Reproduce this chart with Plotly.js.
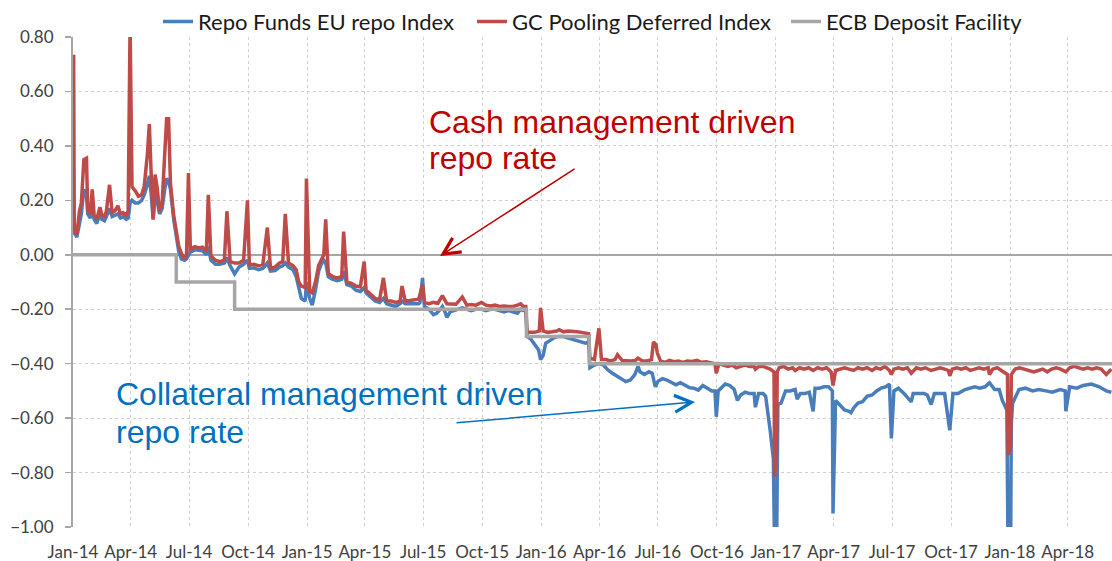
<!DOCTYPE html>
<html>
<head>
<meta charset="utf-8">
<script src="https://cdn.plot.ly/plotly-3.0.1.min.js"></script>
<style>
  html, body { margin: 0; padding: 0; background: #ffffff; }
  #chart { width: 1112px; height: 561px; }
</style>
</head>
<body>
<div id="chart"></div>
<script>
// ---------- DATA ----------
const tickDates = ['2014-01-01','2014-04-01','2014-07-01','2014-10-01','2015-01-01','2015-04-01','2015-07-01','2015-10-01','2016-01-01','2016-04-01','2016-07-01','2016-10-01','2017-01-01','2017-04-01','2017-07-01','2017-10-01','2018-01-01','2018-04-01'];
const tickLabels = ['Jan-14','Apr-14','Jul-14','Oct-14','Jan-15','Apr-15','Jul-15','Oct-15','Jan-16','Apr-16','Jul-16','Oct-16','Jan-17','Apr-17','Jul-17','Oct-17','Jan-18','Apr-18'];
const yTicks = [0.8, 0.6, 0.4, 0.2, 0, -0.2, -0.4, -0.6, -0.8, -1.0];

// ECB Deposit Facility (step changes)
const ecbDates  = ['2014-01-01','2014-06-11','2014-09-10','2015-12-09','2016-03-16','2018-06-09'];
const ecbValues = [0.00, -0.10, -0.20, -0.30, -0.40, -0.40];

// GC Pooling Deferred Index
const gcDates = [
'2014-01-02','2014-01-03','2014-01-07','2014-01-11','2014-01-14','2014-01-18','2014-01-22','2014-01-24','2014-01-28','2014-01-31',
'2014-02-03','2014-02-07','2014-02-12','2014-02-15','2014-02-19','2014-02-22','2014-02-27','2014-03-03','2014-03-07','2014-03-12',
'2014-03-16','2014-03-20','2014-03-25','2014-03-28','2014-03-31','2014-04-03','2014-04-08','2014-04-13','2014-04-18','2014-04-22',
'2014-04-27','2014-04-30','2014-05-03','2014-05-06','2014-05-09','2014-05-12','2014-05-16','2014-05-20','2014-05-24','2014-05-27',
'2014-05-30','2014-06-02','2014-06-07','2014-06-11','2014-06-15','2014-06-19','2014-06-24','2014-06-27','2014-06-30','2014-07-03',
'2014-07-10','2014-07-16','2014-07-22','2014-07-28','2014-07-31','2014-08-04','2014-08-11','2014-08-18','2014-08-25','2014-08-29',
'2014-09-03','2014-09-10','2014-09-17','2014-09-24','2014-09-30','2014-10-03','2014-10-10','2014-10-17','2014-10-24','2014-10-31',
'2014-11-05','2014-11-12','2014-11-19','2014-11-24','2014-11-28','2014-12-03','2014-12-10','2014-12-15','2014-12-19','2014-12-23',
'2014-12-29','2014-12-31','2015-01-05','2015-01-09','2015-01-14','2015-01-19','2015-01-23','2015-01-27','2015-01-30','2015-02-03',
'2015-02-10','2015-02-17','2015-02-24','2015-02-27','2015-03-04','2015-03-11','2015-03-18','2015-03-25','2015-03-31','2015-04-03',
'2015-04-10','2015-04-17','2015-04-24','2015-04-30','2015-05-05','2015-05-12','2015-05-19','2015-05-26','2015-05-29','2015-06-03',
'2015-06-10','2015-06-17','2015-06-24','2015-06-30','2015-07-03','2015-07-10','2015-07-17','2015-07-24','2015-07-31','2015-08-07',
'2015-08-14','2015-08-21','2015-08-31','2015-09-07','2015-09-14','2015-09-21','2015-09-30','2015-10-07','2015-10-14','2015-10-21',
'2015-10-28','2015-11-04','2015-11-11','2015-11-18','2015-11-25','2015-11-30','2015-12-04','2015-12-08','2015-12-10','2015-12-16',
'2015-12-22','2015-12-29','2015-12-31','2016-01-04','2016-01-11','2016-01-18','2016-01-25','2016-01-29','2016-02-05','2016-02-12',
'2016-02-19','2016-02-26','2016-03-04','2016-03-11','2016-03-15','2016-03-17','2016-03-24','2016-03-31','2016-04-04','2016-04-11',
'2016-04-18','2016-04-25','2016-04-29','2016-05-06','2016-05-13','2016-05-20','2016-05-27','2016-05-31','2016-06-07','2016-06-14',
'2016-06-21','2016-06-24','2016-06-28','2016-06-30','2016-07-05','2016-07-12','2016-07-19','2016-07-26','2016-08-02','2016-08-09',
'2016-08-16','2016-08-23','2016-08-31','2016-09-07','2016-09-14','2016-09-21','2016-09-28','2016-09-30','2016-10-04','2016-10-11',
'2016-10-18','2016-10-25','2016-10-31','2016-11-07','2016-11-14','2016-11-21','2016-11-28','2016-11-30','2016-12-05','2016-12-12',
'2016-12-19','2016-12-23','2016-12-29','2016-12-30','2017-01-02','2017-01-03','2017-01-06','2017-01-13','2017-01-20','2017-01-27',
'2017-01-31','2017-02-07','2017-02-14','2017-02-21','2017-02-28','2017-03-07','2017-03-14','2017-03-21','2017-03-28','2017-03-31',
'2017-04-04','2017-04-11','2017-04-18','2017-04-25','2017-05-02','2017-05-09','2017-05-16','2017-05-23','2017-05-31','2017-06-06',
'2017-06-13','2017-06-20','2017-06-27','2017-06-30','2017-07-04','2017-07-11','2017-07-18','2017-07-25','2017-07-31','2017-08-08',
'2017-08-15','2017-08-22','2017-08-31','2017-09-07','2017-09-14','2017-09-21','2017-09-27','2017-09-29','2017-10-03','2017-10-10',
'2017-10-17','2017-10-24','2017-10-31','2017-11-07','2017-11-14','2017-11-21','2017-11-28','2017-11-30','2017-12-05','2017-12-12',
'2017-12-19','2017-12-28','2017-12-29','2018-01-02','2018-01-03','2018-01-09','2018-01-16','2018-01-23','2018-01-31','2018-02-07',
'2018-02-14','2018-02-21','2018-02-28','2018-03-07','2018-03-14','2018-03-21','2018-03-29','2018-04-04','2018-04-11','2018-04-18',
'2018-04-25','2018-05-02','2018-05-09','2018-05-16','2018-05-23','2018-05-31','2018-06-05','2018-06-08'];
const gcValues = [
0.735,0.09,0.075,0.16,0.19,0.35,0.355,0.165,0.15,0.24,
0.145,0.13,0.175,0.145,0.14,0.16,0.257,0.155,0.16,0.18,
0.15,0.155,0.145,0.16,0.85,0.25,0.235,0.215,0.22,0.25,
0.37,0.48,0.29,0.13,0.295,0.25,0.16,0.19,0.37,0.50,
0.50,0.26,0.145,0.09,0.03,0.005,-0.015,0.0,0.30,0.02,
0.03,0.025,0.028,0.012,0.22,-0.005,-0.02,-0.025,-0.02,0.16,
-0.025,-0.03,-0.03,-0.02,0.20,-0.037,-0.035,-0.04,-0.035,0.10,
-0.05,-0.045,-0.03,-0.025,0.15,-0.03,-0.04,-0.055,-0.10,-0.115,
-0.12,0.28,-0.135,-0.14,-0.10,-0.04,-0.02,0.0,0.13,-0.068,
-0.08,-0.085,-0.08,0.085,-0.10,-0.105,-0.115,-0.118,-0.025,-0.13,
-0.145,-0.16,-0.165,-0.085,-0.17,-0.17,-0.175,-0.17,-0.115,-0.17,
-0.168,-0.165,-0.163,-0.11,-0.175,-0.18,-0.175,-0.178,-0.15,-0.18,
-0.18,-0.182,-0.155,-0.185,-0.183,-0.185,-0.175,-0.185,-0.188,-0.185,
-0.19,-0.188,-0.19,-0.19,-0.185,-0.18,-0.19,-0.19,-0.285,-0.285,
-0.285,-0.28,-0.195,-0.28,-0.285,-0.283,-0.28,-0.275,-0.283,-0.28,
-0.28,-0.283,-0.285,-0.288,-0.29,-0.38,-0.385,-0.27,-0.385,-0.385,
-0.39,-0.385,-0.367,-0.388,-0.39,-0.39,-0.388,-0.38,-0.39,-0.39,
-0.385,-0.32,-0.33,-0.36,-0.39,-0.395,-0.388,-0.393,-0.39,-0.395,
-0.39,-0.392,-0.388,-0.395,-0.393,-0.395,-0.40,-0.435,-0.40,-0.405,
-0.41,-0.405,-0.415,-0.41,-0.405,-0.41,-0.41,-0.42,-0.41,-0.41,
-0.415,-0.42,-0.43,-0.815,-0.70,-0.43,-0.415,-0.41,-0.42,-0.415,
-0.425,-0.415,-0.42,-0.415,-0.425,-0.415,-0.42,-0.415,-0.43,-0.48,
-0.425,-0.42,-0.415,-0.42,-0.425,-0.415,-0.42,-0.415,-0.425,-0.415,
-0.42,-0.41,-0.425,-0.44,-0.42,-0.415,-0.42,-0.415,-0.435,-0.415,
-0.42,-0.415,-0.425,-0.42,-0.415,-0.42,-0.425,-0.445,-0.42,-0.415,
-0.42,-0.415,-0.425,-0.42,-0.415,-0.42,-0.415,-0.44,-0.42,-0.415,
-0.425,-0.44,-0.735,-0.70,-0.44,-0.42,-0.415,-0.42,-0.425,-0.43,
-0.425,-0.42,-0.43,-0.42,-0.415,-0.42,-0.43,-0.415,-0.41,-0.415,
-0.42,-0.415,-0.42,-0.415,-0.42,-0.44,-0.425,-0.42];

// Repo Funds EU repo Index
const repoDates = [
'2014-01-02','2014-01-03','2014-01-07','2014-01-11','2014-01-14','2014-01-18','2014-01-22','2014-01-24','2014-01-28','2014-01-31',
'2014-02-03','2014-02-07','2014-02-12','2014-02-15','2014-02-19','2014-02-22','2014-02-27','2014-03-03','2014-03-07','2014-03-12',
'2014-03-16','2014-03-20','2014-03-25','2014-03-28','2014-03-31','2014-04-03','2014-04-08','2014-04-13','2014-04-18','2014-04-22',
'2014-04-27','2014-04-30','2014-05-03','2014-05-06','2014-05-09','2014-05-12','2014-05-16','2014-05-20','2014-05-24','2014-05-27',
'2014-05-30','2014-06-02','2014-06-07','2014-06-11','2014-06-15','2014-06-19','2014-06-24','2014-06-27','2014-06-30','2014-07-03',
'2014-07-10','2014-07-16','2014-07-22','2014-07-28','2014-07-31','2014-08-04','2014-08-11','2014-08-18','2014-08-25','2014-08-29',
'2014-09-03','2014-09-10','2014-09-17','2014-09-24','2014-09-30','2014-10-03','2014-10-10','2014-10-17','2014-10-24','2014-10-31',
'2014-11-05','2014-11-12','2014-11-19','2014-11-24','2014-11-28','2014-12-03','2014-12-10','2014-12-15','2014-12-19','2014-12-23',
'2014-12-29','2014-12-31','2015-01-05','2015-01-09','2015-01-14','2015-01-19','2015-01-23','2015-01-27','2015-01-30','2015-02-03',
'2015-02-10','2015-02-17','2015-02-24','2015-02-27','2015-03-04','2015-03-11','2015-03-18','2015-03-25','2015-03-31','2015-04-03',
'2015-04-10','2015-04-17','2015-04-24','2015-04-30','2015-05-05','2015-05-12','2015-05-19','2015-05-26','2015-05-29','2015-06-03',
'2015-06-10','2015-06-17','2015-06-24','2015-06-26','2015-06-30','2015-07-03','2015-07-10','2015-07-17','2015-07-22','2015-07-28',
'2015-07-31','2015-08-04','2015-08-07','2015-08-12','2015-08-19','2015-08-26','2015-08-31','2015-09-07','2015-09-14','2015-09-21',
'2015-09-30','2015-10-07','2015-10-14','2015-10-21','2015-10-28','2015-11-04','2015-11-11','2015-11-18','2015-11-25','2015-11-30',
'2015-12-04','2015-12-08','2015-12-10','2015-12-16','2015-12-22','2015-12-28','2015-12-31','2016-01-04','2016-01-08','2016-01-14',
'2016-01-21','2016-01-28','2016-02-04','2016-02-11','2016-02-18','2016-02-25','2016-03-03','2016-03-10','2016-03-15','2016-03-17',
'2016-03-24','2016-03-31','2016-04-07','2016-04-14','2016-04-21','2016-04-28','2016-05-05','2016-05-12','2016-05-19','2016-05-26',
'2016-05-31','2016-06-03','2016-06-10','2016-06-17','2016-06-22','2016-06-27','2016-07-01','2016-07-08','2016-07-15','2016-07-22',
'2016-07-29','2016-08-05','2016-08-12','2016-08-19','2016-08-26','2016-09-02','2016-09-09','2016-09-16','2016-09-23','2016-09-28',
'2016-09-30','2016-10-03','2016-10-07','2016-10-14','2016-10-21','2016-10-28','2016-11-02','2016-11-07','2016-11-14','2016-11-21',
'2016-11-28','2016-11-30','2016-12-05','2016-12-12','2016-12-16','2016-12-20','2016-12-23','2016-12-28','2016-12-30','2017-01-02',
'2017-01-03','2017-01-04','2017-01-09','2017-01-16','2017-01-23','2017-01-31','2017-02-03','2017-02-08','2017-02-15','2017-02-22',
'2017-02-28','2017-03-03','2017-03-10','2017-03-17','2017-03-24','2017-03-30','2017-03-31','2017-04-04','2017-04-10','2017-04-18',
'2017-04-25','2017-04-28','2017-05-03','2017-05-09','2017-05-16','2017-05-23','2017-05-31','2017-06-07','2017-06-14','2017-06-21',
'2017-06-27','2017-06-30','2017-07-04','2017-07-11','2017-07-20','2017-07-31','2017-08-03','2017-08-09','2017-08-20','2017-08-25',
'2017-08-31','2017-09-05','2017-09-14','2017-09-21','2017-09-29','2017-10-04','2017-10-12','2017-10-23','2017-11-07','2017-11-15',
'2017-11-23','2017-11-30','2017-12-08','2017-12-15','2017-12-20','2017-12-27','2017-12-29','2018-01-02','2018-01-03','2018-01-05',
'2018-01-15','2018-01-25','2018-02-05','2018-02-15','2018-02-26','2018-03-08','2018-03-20','2018-03-28','2018-03-29','2018-04-04',
'2018-04-15','2018-04-25','2018-05-08','2018-05-20','2018-05-31','2018-06-08'];
const repoValues = [
0.10,0.08,0.065,0.12,0.15,0.24,0.22,0.15,0.135,0.16,
0.13,0.115,0.15,0.13,0.125,0.14,0.17,0.14,0.145,0.15,
0.135,0.14,0.13,0.135,0.19,0.20,0.19,0.19,0.20,0.22,
0.26,0.29,0.22,0.13,0.22,0.20,0.15,0.17,0.24,0.28,
0.27,0.24,0.13,0.07,0.01,-0.015,-0.02,-0.015,0.0,0.01,
0.018,0.015,0.015,0.0,0.03,-0.02,-0.035,-0.035,-0.03,-0.01,
-0.04,-0.07,-0.045,-0.035,-0.02,-0.05,-0.048,-0.055,-0.05,-0.03,
-0.06,-0.058,-0.045,-0.04,-0.03,-0.045,-0.055,-0.08,-0.12,-0.16,
-0.17,-0.10,-0.16,-0.185,-0.13,-0.06,-0.035,-0.02,-0.03,-0.08,
-0.09,-0.095,-0.09,-0.06,-0.11,-0.115,-0.13,-0.135,-0.12,-0.14,
-0.155,-0.17,-0.175,-0.16,-0.18,-0.185,-0.19,-0.18,-0.17,-0.18,
-0.18,-0.178,-0.18,-0.175,-0.085,-0.19,-0.20,-0.22,-0.215,-0.20,
-0.19,-0.21,-0.23,-0.21,-0.205,-0.20,-0.195,-0.20,-0.205,-0.20,
-0.20,-0.205,-0.20,-0.20,-0.205,-0.21,-0.205,-0.21,-0.215,-0.20,
-0.205,-0.205,-0.30,-0.31,-0.33,-0.35,-0.385,-0.37,-0.325,-0.315,
-0.305,-0.30,-0.30,-0.305,-0.31,-0.315,-0.32,-0.325,-0.32,-0.415,
-0.405,-0.40,-0.405,-0.423,-0.435,-0.445,-0.455,-0.466,-0.46,-0.44,
-0.41,-0.43,-0.44,-0.43,-0.435,-0.485,-0.465,-0.455,-0.46,-0.468,
-0.478,-0.47,-0.478,-0.488,-0.49,-0.497,-0.48,-0.49,-0.50,-0.50,
-0.595,-0.50,-0.49,-0.475,-0.48,-0.495,-0.535,-0.515,-0.505,-0.51,
-0.51,-0.56,-0.51,-0.51,-0.52,-0.58,-0.645,-0.75,-1.10,-1.10,
-0.62,-0.55,-0.545,-0.50,-0.50,-0.495,-0.53,-0.51,-0.51,-0.505,
-0.575,-0.49,-0.49,-0.485,-0.485,-0.50,-0.95,-0.535,-0.55,-0.57,
-0.575,-0.58,-0.56,-0.545,-0.54,-0.52,-0.515,-0.50,-0.49,-0.485,
-0.475,-0.675,-0.50,-0.49,-0.51,-0.54,-0.51,-0.51,-0.51,-0.515,
-0.55,-0.51,-0.51,-0.51,-0.645,-0.51,-0.51,-0.495,-0.485,-0.49,
-0.485,-0.47,-0.495,-0.495,-0.535,-0.57,-1.10,-1.05,-0.62,-0.545,
-0.495,-0.49,-0.50,-0.495,-0.50,-0.505,-0.495,-0.50,-0.575,-0.485,
-0.49,-0.48,-0.475,-0.485,-0.50,-0.505];

// ---------- CHART ----------
const W = 1112, H = 561;
const M = {l: 73, r: 0, t: 37, b: 34};
const plotW = W - M.l - M.r, plotH = H - M.t - M.b;
const px = x => (x - M.l) / plotW;   // pixel -> paper x
const py = y => (H - M.b - y) / plotH; // pixel -> paper y

const traces = [
  { type: 'scatter', mode: 'lines', name: 'Repo Funds EU repo Index',
    x: repoDates, y: repoValues, line: {color: '#4A7EBB', width: 3.5} },
  { type: 'scatter', mode: 'lines', name: 'GC Pooling Deferred Index',
    x: gcDates, y: gcValues, line: {color: '#BE4B48', width: 3.5} },
  { type: 'scatter', mode: 'lines', name: 'ECB Deposit Facility',
    x: ecbDates, y: ecbValues, line: {color: '#A6A6A6', width: 3.5, shape: 'hv'} }
];

const annFont = (c) => ({family: '"Liberation Sans", Arial, sans-serif', size: 32, color: c});
const layout = {
  width: W, height: H,
  margin: M,
  paper_bgcolor: '#ffffff', plot_bgcolor: '#ffffff',
  showlegend: true,
  legend: {
    orientation: 'h', x: px(158), xanchor: 'left', y: 1.031, yanchor: 'middle',
    font: {family: 'Lato, "Open Sans", sans-serif', size: 22, color: '#1a1a1a'},
    bgcolor: 'rgba(0,0,0,0)', itemwidth: 30, traceorder: 'normal',
    entrywidth: 269, entrywidthmode: 'pixels'
  },
  xaxis: {
    type: 'date', range: ['2014-01-01', '2018-06-09'],
    tickmode: 'array', tickvals: tickDates, ticktext: tickLabels,
    showgrid: true, gridcolor: '#D0D0D0', griddash: 'dot', gridwidth: 1,
    zeroline: false, showline: false, ticks: '',
    tickfont: {family: 'Lato, "Open Sans", sans-serif', size: 17, color: '#404040'},
    ticklabelstandoff: 13
  },
  yaxis: {
    range: [-1.0, 0.8], tickmode: 'array', tickvals: yTicks,
    tickformat: '.2f',
    showgrid: true, gridcolor: '#D0D0D0', griddash: 'dot', gridwidth: 1,
    zeroline: true, zerolinecolor: '#A6A6A6', zerolinewidth: 2,
    showline: true, linecolor: '#A6A6A6', linewidth: 2,
    ticks: 'outside', ticklen: 6, tickcolor: '#A6A6A6', tickwidth: 1.5,
    tickfont: {family: 'Lato, "Open Sans", sans-serif', size: 17, color: '#404040'},
    ticklabelstandoff: 8
  },
  annotations: [
    {xref: 'paper', yref: 'paper', x: px(427), y: py(122), xanchor: 'left', yanchor: 'middle',
     text: 'Cash management driven', showarrow: false, font: annFont('#C00000')},
    {xref: 'paper', yref: 'paper', x: px(427), y: py(158), xanchor: 'left', yanchor: 'middle',
     text: 'repo rate', showarrow: false, font: annFont('#C00000')},
    {xref: 'paper', yref: 'paper', x: px(114), y: py(394), xanchor: 'left', yanchor: 'middle',
     text: 'Collateral management driven', showarrow: false, font: annFont('#0070C0')},
    {xref: 'paper', yref: 'paper', x: px(114), y: py(432), xanchor: 'left', yanchor: 'middle',
     text: 'repo rate', showarrow: false, font: annFont('#0070C0')},
    {xref: 'paper', yref: 'paper', x: px(440), y: py(256), text: '', showarrow: true,
     ax: 576 - 440, ay: 168 - 256, arrowhead: 5, arrowsize: 2.2, arrowwidth: 1.5, arrowcolor: '#C00000'},
    {xref: 'paper', yref: 'paper', x: px(695), y: py(402), text: '', showarrow: true,
     ax: 455 - 695, ay: 423 - 402, arrowhead: 5, arrowsize: 2.2, arrowwidth: 1.5, arrowcolor: '#0070C0'}
  ]
};

Plotly.newPlot('chart', traces, layout, {staticPlot: true, displayModeBar: false});
</script>
</body>
</html>
